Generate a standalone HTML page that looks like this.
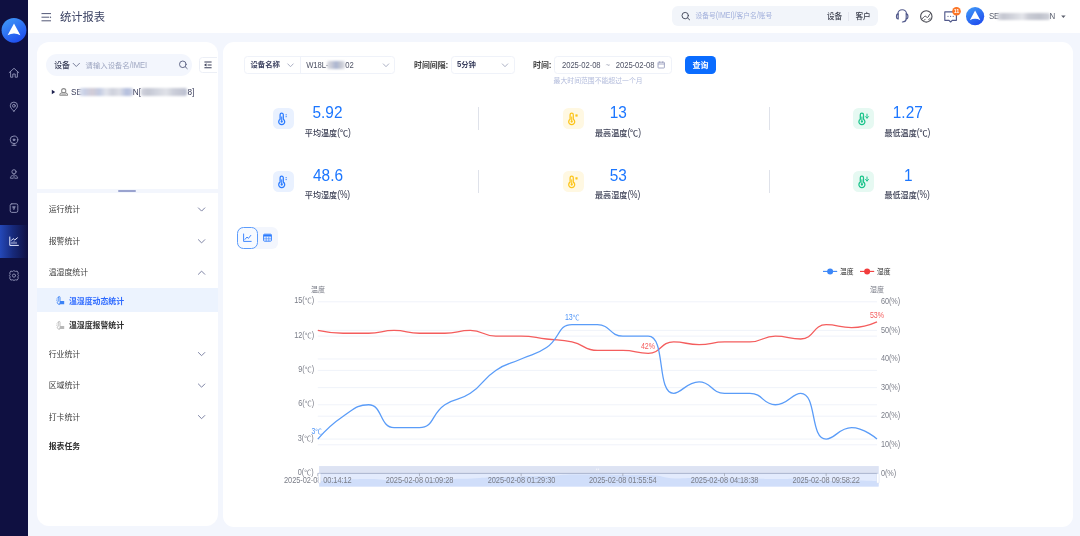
<!DOCTYPE html>
<html lang="zh-CN"><head><meta charset="utf-8"><title>统计报表</title>
<style>
html,body{margin:0;padding:0;}
body{width:1080px;height:536px;overflow:hidden;background:#f3f6fd;font-family:"Liberation Sans","Noto Sans CJK SC",sans-serif;position:relative;}
.b{position:absolute;box-sizing:border-box;}
.t{position:absolute;white-space:nowrap;}
.l{display:inline-block;font-size:1.04em;letter-spacing:-0.01em;transform:scaleY(1.2);transform-origin:50% 74%;}
.n{display:inline-block;transform:scaleY(1.1);transform-origin:50% 74%;}
svg{overflow:visible;}
</style></head>
<body>
<nav>
<div class="b" style="left:0px;top:0px;width:28px;height:536px;background:#0f1041;"></div>
<div class="b" style="left:0px;top:224.5px;width:28px;height:33.5px;background:linear-gradient(90deg,#2448b8 0%,#172a7c 45%,#0f1041 100%);"></div>
<svg class="b" style="left:0;top:0" width="1080" height="536"><defs><linearGradient id="lg14" x1="0.2" y1="0" x2="0.8" y2="1"><stop offset="0" stop-color="#3f97f7"/><stop offset="1" stop-color="#1d49ee"/></linearGradient></defs><circle cx="14" cy="30.3" r="12.4" fill="url(#lg14)"/><path d="M14,23.48 L20.406666666666666,35.156666666666666 Q14,31.746666666666666 7.593333333333333,35.156666666666666 Z" fill="#fff"/></svg>
<svg class="b" style="left:0;top:0" width="1080" height="536"><g fill="none" stroke="#8d90b4" stroke-width="0.95" stroke-linecap="round" stroke-linejoin="round"><path d="M9.2,72.6 L14,68.3 L18.8,72.6 M10.6,71.6 V77.2 H12.8 V74 H15.2 V77.2 H17.4 V71.6"/></g></svg>
<svg class="b" style="left:0;top:0" width="1080" height="536"><g fill="none" stroke="#8d90b4" stroke-width="0.95" stroke-linecap="round" stroke-linejoin="round"><path d="M13.9,111.2 C11.6,108.9 10.3,107.4 10.3,105.7 A3.6,3.6 0 0 1 17.5,105.7 C17.5,107.4 16.2,108.9 13.9,111.2 Z"/><circle cx="13.9" cy="105.8" r="1.4"/></g></svg>
<svg class="b" style="left:0;top:0" width="1080" height="536"><g fill="none" stroke="#8d90b4" stroke-width="0.95" stroke-linecap="round" stroke-linejoin="round"><circle cx="14" cy="139.8" r="3.8"/><circle cx="14" cy="139.8" r="0.9" fill="#8d90b4"/><path d="M12,145.3 H16 M14,143.6 V145.3"/></g></svg>
<svg class="b" style="left:0;top:0" width="1080" height="536"><g fill="none" stroke="#8d90b4" stroke-width="0.95" stroke-linecap="round" stroke-linejoin="round"><circle cx="14" cy="171.8" r="2.1"/><path d="M14,174 V176 M12.4,175.6 C10.8,175.9 10.4,177 10.4,178.2 H12.6 M15.6,175.6 C17.2,175.9 17.6,177 17.6,178.2 H15.4 M14,176.6 V178.4"/></g></svg>
<svg class="b" style="left:0;top:0" width="1080" height="536"><g fill="none" stroke="#8d90b4" stroke-width="0.95" stroke-linecap="round" stroke-linejoin="round"><rect x="10.2" y="203.8" width="7.6" height="8.6" rx="1.6"/><path d="M12.6,206.6 H15.4 L14,209.6 Z" fill="#8d90b4" stroke-width="0.5"/></g></svg>
<svg class="b" style="left:0;top:0" width="1080" height="536"><g fill="none" stroke="#e8ebff" stroke-width="1" stroke-linecap="round" stroke-linejoin="round"><path d="M9.8,237 V245.4 H18.4"/><path d="M11.4,240.4 L13.2,238.6 L14.8,240 L17.4,237.8"/><path d="M12,243.6 V242.2 M14,243.6 V241.6 M16,243.6 V242.2" stroke-width="0.8"/></g></svg>
<svg class="b" style="left:0;top:0" width="1080" height="536"><g fill="none" stroke="#8d90b4" stroke-width="0.95" stroke-linecap="round" stroke-linejoin="round"><circle cx="14" cy="275.6" r="1.6"/><path d="M14,270.8 L15.6,271.4 L17.2,271.1 L18.3,273 L17.8,274.4 L18.6,275.6 L17.8,276.8 L18.3,278.2 L17.2,280.1 L15.6,279.8 L14,280.4 L12.4,279.8 L10.8,280.1 L9.7,278.2 L10.2,276.8 L9.4,275.6 L10.2,274.4 L9.7,273 L10.8,271.1 L12.4,271.4 Z"/></g></svg>
</nav>
<header>
<div class="b" style="left:28px;top:0px;width:1052px;height:33px;background:#fff;"></div>
<svg class="b" style="left:0;top:0" width="1080" height="536"><g stroke="#4a5070" stroke-width="0.95" fill="none"><path d="M41.5,13.6 H51 M41.5,17.2 H49.3 M41.5,20.8 H51"/><path d="M50,16.2 L51.3,17.2 L50,18.2 Z" fill="#4a5070" stroke="none"/></g></svg>
<div class="t" id="title" style="left:59.9px;top:9px;font-size:11.3px;line-height:17px;color:#3b4263;font-weight:400;"><span>统计报表</span></div>
<div class="b" style="left:671.8px;top:6.1px;width:206.4px;height:20.1px;background:#f2f5fa;border-radius:6px;"></div>
<svg class="b" style="left:0;top:0" width="1080" height="536"><g stroke="#454a5c" stroke-width="0.95" fill="none" stroke-linecap="round"><circle cx="685.2" cy="15.6" r="3.2"/><path d="M687.6,18 L689.6,19.8"/></g></svg>
<div class="t" id="hph" style="left:695.4px;top:10px;font-size:6.8px;line-height:11px;color:#a3b1dc;font-weight:400;"><span>设备号<span class="l">(IMEI)/</span>客户名<span class="l">/</span>账号</span></div>
<div class="t" id="hdev" style="left:827px;top:11px;font-size:7.6px;line-height:12px;color:#3a3e4c;font-weight:500;"><span>设备</span></div>
<div class="b" style="left:848.1px;top:11.5px;width:0.6px;height:9px;background:#e3e6ee;"></div>
<div class="t" id="hcus" style="left:855.4px;top:11px;font-size:7.6px;line-height:12px;color:#3a3e4c;font-weight:500;"><span>客户</span></div>
<svg class="b" style="left:0;top:0" width="1080" height="536"><g stroke="#525a8c" stroke-width="1.15" fill="none" stroke-linecap="round"><path d="M897.9,14.6 V14 A4.3,4.3 0 0 1 906.5,14 V14.6"/><path d="M898.2,13.9 C895.9,14.1 895.9,18.7 898.2,18.9 Z"/><path d="M906.2,13.9 C908.5,14.1 908.5,18.7 906.2,18.9 Z"/><path d="M906.2,18.9 C906.1,21 904.6,21.9 902.4,22"/></g></svg>
<svg class="b" style="left:0;top:0" width="1080" height="536"><g stroke="#4b4c55" stroke-width="1.1" fill="none" stroke-linecap="round" stroke-linejoin="round"><circle cx="926.3" cy="16.4" r="5.7"/><path d="M922.2,18.6 C923.6,18.4 923.8,16.2 925.2,16.2 C926.6,16.2 926.4,17.6 927.6,17.4 C929,17.2 928.6,14.2 930.4,13.6" stroke-width="1"/><path d="M923.8,20.6 L925.2,19.2 M928.6,19.6 L930.2,18.4" stroke-width="0.9"/></g></svg>
<svg class="b" style="left:0;top:0" width="1080" height="536"><g stroke="#525a8c" stroke-width="1.15" fill="none" stroke-linejoin="round"><path d="M944.8,11.9 H956.4 V20.3 H952.2 L950.6,22 L949,20.3 H944.8 Z"/></g><g fill="#525a8c"><circle cx="948" cy="16.3" r="0.6"/><circle cx="950.6" cy="16.3" r="0.6"/><circle cx="953.2" cy="16.3" r="0.6"/></g><circle cx="956.5" cy="11.3" r="4.3" fill="#fb7526"/></svg>
<div class="t" style="left:946.5px;top:8.3px;width:20px;text-align:center;font-size:5.4px;line-height:6px;color:#fff;font-weight:700;">11</div>
<svg class="b" style="left:0;top:0" width="1080" height="536"><defs><linearGradient id="lg975" x1="0.2" y1="0" x2="0.8" y2="1"><stop offset="0" stop-color="#3f97f7"/><stop offset="1" stop-color="#1d49ee"/></linearGradient></defs><circle cx="975.1" cy="16.2" r="9.1" fill="url(#lg975)"/><path d="M975.1,10.5944 L980.3658666666666,20.191866666666666 Q975.1,17.389066666666665 969.8341333333334,20.191866666666666 Z" fill="#fff"/></svg>
<div class="t" id="use" style="left:988.9px;top:11px;font-size:7.6px;line-height:12px;color:#555a6a;font-weight:400;"><span><span class="l">SE</span></span></div>
<div class="b" style="left:996.6px;top:12.6px;width:53px;height:7.6px;background:linear-gradient(90deg,#d9dbe2 0%,#c4c6d0 12%,#d2d4dc 30%,#e4e5ea 48%,#c9cbd4 60%,#bfc2cc 80%,#d0d2da 100%);filter:blur(1.0px);opacity:1;border-radius:2px"></div>
<div class="t" id="usn" style="left:1049.6px;top:11px;font-size:7.6px;line-height:12px;color:#555a6a;font-weight:400;"><span><span class="l">N</span></span></div>
<svg class="b" style="left:0;top:0" width="1080" height="536"><path d="M1061.2,15.4 H1065.6 L1063.4,18 Z" fill="#5a5e6c"/></svg>
</header>
<aside>
<div class="b" style="left:37px;top:42px;width:180.5px;height:146.5px;background:#fff;border-radius:12px 12px 0 0;"></div>
<div class="b" style="left:45.8px;top:53.5px;width:146.2px;height:22.2px;background:#f3f6fd;border-radius:11.1px;"></div>
<div class="t" id="ldev" style="left:54.2px;top:60px;font-size:7.9px;line-height:12px;color:#3a3f58;font-weight:500;"><span>设备</span></div>
<svg class="b" style="left:0;top:0" width="1080" height="536"><path d="M73.1,63.300000000000004 L76.3,66.5 L79.5,63.300000000000004" fill="none" stroke="#6a7090" stroke-width="0.9" stroke-linecap="round" stroke-linejoin="round"/></svg>
<div class="t" id="lph" style="left:85.6px;top:60px;font-size:7.35px;line-height:12px;color:#9fa7c2;font-weight:400;"><span>请输入设备名<span class="l">/IMEI</span></span></div>
<svg class="b" style="left:0;top:0" width="1080" height="536"><g stroke="#5c6284" stroke-width="0.95" fill="none" stroke-linecap="round"><circle cx="182.8" cy="64.3" r="3.3"/><path d="M185.3,66.8 L187.2,68.6"/></g></svg>
<div class="b" style="left:199.3px;top:57.4px;width:18.2px;height:15.9px;overflow:hidden;"><div class="b" style="left:0;top:0;width:26px;height:15.8px;border:0.6px solid #eceff6;border-radius:3.5px;background:#fff;"></div></div>
<svg class="b" style="left:0;top:0" width="1080" height="536"><g stroke="#3a3f58" stroke-width="1.05" fill="none"><path d="M204.4,62 H211.6 M207.6,64.9 H211.6 M204.4,67.8 H211.6"/></g><path d="M204,64.9 L206.5,63.3 V66.5 Z" fill="#3a3f58"/></svg>
<svg class="b" style="left:0;top:0" width="1080" height="536"><path d="M51.8,89.7 L55.2,92 L51.8,94.3 Z" fill="#1f2350"/><g stroke="#8c8c8c" stroke-width="1.05" fill="none" stroke-linejoin="round"><circle cx="63.7" cy="90.7" r="2.1"/><path d="M60.2,95.3 C59.5,95.3 59.4,92.5 63.7,92.5 C68,92.5 67.9,95.3 67.2,95.3 Z"/><path d="M61.4,94.1 H66" stroke-width="0.8"/></g></svg>
<div class="t" id="tse" style="left:71.1px;top:87px;font-size:7.9px;line-height:12px;color:#3d405e;font-weight:400;"><span><span class="l">SE</span></span></div>
<div class="b" style="left:79px;top:88.4px;width:53.6px;height:7.8px;background:linear-gradient(90deg,#e0e4f0 0%,#c8d0e6 10%,#d2ccd6 25%,#c2cbe2 38%,#e2e4ec 50%,#ced1dc 62%,#dcdee6 75%,#b4bfde 88%,#c8cde0 100%);filter:blur(1.0px);opacity:1;border-radius:2px"></div>
<div class="t" id="tn" style="left:132.8px;top:87px;font-size:7.9px;line-height:12px;color:#3d405e;font-weight:400;"><span><span class="l">N[</span></span></div>
<div class="b" style="left:141.2px;top:88.4px;width:46px;height:7.8px;background:linear-gradient(90deg,#d2d4de 0%,#c4c7d3 15%,#d2d5df 35%,#e0e2e8 55%,#cccfda 70%,#c5c8d4 85%,#bcc1d2 100%);filter:blur(1.0px);opacity:1;border-radius:2px"></div>
<div class="t" id="t8" style="left:187.5px;top:87px;font-size:7.9px;line-height:12px;color:#3d405e;font-weight:400;"><span><span class="l">8]</span></span></div>
<div class="b" style="left:118.2px;top:190.0px;width:17.8px;height:1.5px;background:#9aa3cf;border-radius:1px;"></div>
<div class="b" style="left:37px;top:193px;width:180.5px;height:332.6px;background:#fff;border-radius:0 0 12px 12px;"></div>
<div class="t" id="m0" style="left:48.7px;top:204px;font-size:7.9px;line-height:12px;color:#3c3c3c;font-weight:400;"><span>运行统计</span></div>
<svg class="b" style="left:0;top:0" width="1080" height="536"><path d="M198.4,207.9 L201.6,211.1 L204.8,207.9" fill="none" stroke="#7d83a4" stroke-width="1.0" stroke-linecap="round" stroke-linejoin="round"/></svg>
<div class="t" id="m1" style="left:48.7px;top:236px;font-size:7.9px;line-height:12px;color:#3c3c3c;font-weight:400;"><span>报警统计</span></div>
<svg class="b" style="left:0;top:0" width="1080" height="536"><path d="M198.4,239.70000000000002 L201.6,242.9 L204.8,239.70000000000002" fill="none" stroke="#7d83a4" stroke-width="1.0" stroke-linecap="round" stroke-linejoin="round"/></svg>
<div class="t" id="m2" style="left:48.7px;top:267px;font-size:7.9px;line-height:12px;color:#3c3c3c;font-weight:400;"><span>温湿度统计</span></div>
<svg class="b" style="left:0;top:0" width="1080" height="536"><path d="M198.4,274.3 L201.6,271.09999999999997 L204.8,274.3" fill="none" stroke="#7d83a4" stroke-width="1.0" stroke-linecap="round" stroke-linejoin="round"/></svg>
<div class="t" id="m3" style="left:48.7px;top:349px;font-size:7.9px;line-height:12px;color:#3c3c3c;font-weight:400;"><span>行业统计</span></div>
<svg class="b" style="left:0;top:0" width="1080" height="536"><path d="M198.4,352.5 L201.6,355.70000000000005 L204.8,352.5" fill="none" stroke="#7d83a4" stroke-width="1.0" stroke-linecap="round" stroke-linejoin="round"/></svg>
<div class="t" id="m4" style="left:48.7px;top:380px;font-size:7.9px;line-height:12px;color:#3c3c3c;font-weight:400;"><span>区域统计</span></div>
<svg class="b" style="left:0;top:0" width="1080" height="536"><path d="M198.4,384.0 L201.6,387.20000000000005 L204.8,384.0" fill="none" stroke="#7d83a4" stroke-width="1.0" stroke-linecap="round" stroke-linejoin="round"/></svg>
<div class="t" id="m5" style="left:48.7px;top:412px;font-size:7.9px;line-height:12px;color:#3c3c3c;font-weight:400;"><span>打卡统计</span></div>
<svg class="b" style="left:0;top:0" width="1080" height="536"><path d="M198.4,415.5 L201.6,418.70000000000005 L204.8,415.5" fill="none" stroke="#7d83a4" stroke-width="1.0" stroke-linecap="round" stroke-linejoin="round"/></svg>
<div class="t" id="m6" style="left:48.7px;top:441px;font-size:7.9px;line-height:12px;color:#2e2e2e;font-weight:700;"><span>报表任务</span></div>
<div class="b" style="left:37px;top:288px;width:180.5px;height:23.9px;background:#ecf3fe;"></div>
<svg class="b" style="left:0;top:0" width="1080" height="536"><g stroke="#3b82f6" stroke-width="0.9" fill="none" stroke-linecap="round"><path d="M58.2,297.40000000000003 V301.20000000000005 A1.7,1.7 0 1 0 60.0,301.20000000000005 V297.40000000000003 A0.9,0.9 0 0 0 58.2,297.40000000000003"/></g><path d="M60.0,301.0 H64.2 V304.20000000000005 H59.2 Z" fill="#3b82f6"/><path d="M56.2,299.0 H57.0 M56.2,300.6 H57.0" stroke="#3b82f6" stroke-width="0.6"/></svg>
<div class="t" id="s0" style="left:68.9px;top:296px;font-size:7.9px;line-height:12px;color:#2f6bff;font-weight:700;"><span>温湿度动态统计</span></div>
<svg class="b" style="left:0;top:0" width="1080" height="536"><g stroke="#b8b8b8" stroke-width="0.9" fill="none" stroke-linecap="round"><path d="M58.2,322.3 V326.1 A1.7,1.7 0 1 0 60.0,326.1 V322.3 A0.9,0.9 0 0 0 58.2,322.3"/></g><path d="M60.0,325.9 H64.2 V329.1 H59.2 Z" fill="#b8b8b8"/><path d="M56.2,323.9 H57.0 M56.2,325.5 H57.0" stroke="#b8b8b8" stroke-width="0.6"/></svg>
<div class="t" id="s1" style="left:68.9px;top:320px;font-size:7.9px;line-height:12px;color:#2e2e2e;font-weight:700;"><span>温湿度报警统计</span></div>
</aside>
<main>
<div class="b" style="left:223px;top:42px;width:849.5px;height:484.9px;background:#fff;border-radius:11px;"></div>
<div class="b" style="left:244.2px;top:56.3px;width:151.2px;height:17.6px;border:0.6px solid #eff2f9;border-radius:3.5px;background:#fff;"></div>
<div class="b" style="left:300.1px;top:56.3px;width:0.6px;height:17.6px;background:#eff2f9;"></div>
<div class="t" id="f1" style="left:250.4px;top:59px;font-size:7.4px;line-height:12px;color:#3d4260;font-weight:700;"><span>设备名称</span></div>
<svg class="b" style="left:0;top:0" width="1080" height="536"><path d="M287.8,63.9 L290.5,66.7 L293.2,63.9" fill="none" stroke="#9da3ba" stroke-width="0.85" stroke-linecap="round" stroke-linejoin="round"/></svg>
<div class="t" id="f2" style="left:306.2px;top:60px;font-size:7.4px;line-height:12px;color:#4f5366;font-weight:400;"><span><span class="l">W18L-</span></span></div>
<div class="b" style="left:327.4px;top:61.2px;width:17.6px;height:7.4px;background:linear-gradient(90deg,#dcdde3 0%,#c9ccd8 25%,#aab4d0 50%,#c4c7d2 75%,#dcdde3 100%);filter:blur(1.0px);opacity:1;border-radius:2px"></div>
<div class="t" id="f3" style="left:345.2px;top:60px;font-size:7.4px;line-height:12px;color:#4f5366;font-weight:400;"><span><span class="l">02</span></span></div>
<svg class="b" style="left:0;top:0" width="1080" height="536"><path d="M383.3,63.9 L386,66.7 L388.7,63.9" fill="none" stroke="#9da3ba" stroke-width="0.85" stroke-linecap="round" stroke-linejoin="round"/></svg>
<div class="t" id="f4" style="left:414.0px;top:60px;font-size:7.9px;line-height:12px;color:#3a3a3a;font-weight:700;"><span>时间间隔<span class="l">:</span></span></div>
<div class="b" style="left:451.2px;top:56.3px;width:63.4px;height:17.6px;border:0.6px solid #eff2f9;border-radius:3.5px;background:#fff;"></div>
<div class="t" id="f5" style="left:457px;top:59px;font-size:7.4px;line-height:12px;color:#3d4260;font-weight:700;"><span><span class="l">5</span>分钟</span></div>
<svg class="b" style="left:0;top:0" width="1080" height="536"><path d="M502.3,63.9 L505,66.7 L507.7,63.9" fill="none" stroke="#9da3ba" stroke-width="0.85" stroke-linecap="round" stroke-linejoin="round"/></svg>
<div class="t" id="f6" style="left:533px;top:60px;font-size:7.9px;line-height:12px;color:#3a3a3a;font-weight:700;"><span>时间<span class="l">:</span></span></div>
<div class="b" style="left:554.3px;top:56.3px;width:117.5px;height:17.6px;border:0.6px solid #eff2f9;border-radius:3.5px;background:#fff;"></div>
<div class="t" id="d1" style="left:562.0px;top:60px;font-size:7.4px;line-height:12px;color:#4f5366;font-weight:400;"><span><span class="l">2025-02-08</span></span></div>
<div class="t" id="d2" style="left:605.4px;top:60px;font-size:7.4px;line-height:12px;color:#b0b4c4;font-weight:400;"><span><span class="l">~</span></span></div>
<div class="t" id="d3" style="left:615.8px;top:60px;font-size:7.4px;line-height:12px;color:#4f5366;font-weight:400;"><span><span class="l">2025-02-08</span></span></div>
<svg class="b" style="left:0;top:0" width="1080" height="536"><g stroke="#8d93b5" stroke-width="0.8" fill="none"><rect x="658" y="62.2" width="6.4" height="5.8" rx="0.6"/><path d="M658,64 H664.4 M659.7,61.4 V62.8 M662.7,61.4 V62.8"/></g></svg>
<div class="t" id="hint" style="left:553.6px;top:75px;font-size:6.85px;line-height:11px;color:#b3bcdc;font-weight:400;"><span>最大时间范围不能超过一个月</span></div>
<div class="b" style="left:685.4px;top:55.6px;width:31px;height:18.4px;background:#0a6cff;border-radius:4.5px;"></div>
<div class="t" id="btn" style="left:550.6px;width:300px;text-align:center;top:60px;font-size:8.0px;line-height:12px;color:#fff;font-weight:700;"><span>查询</span></div>
<div class="b" style="left:273.2px;top:108.4px;width:20.4px;height:20.5px;background:#e9f1ff;border-radius:5.5px;"></div>
<svg class="b" style="left:0;top:0" width="1080" height="536"><g stroke="#2a7bff" stroke-width="1.25" fill="none" stroke-linecap="round" stroke-linejoin="round"><path d="M280.09999999999997,114.8 A1.6,1.6 0 0 1 283.3,114.8 V119.2 A3,3 0 1 1 280.09999999999997,119.2 Z"/><path d="M281.7,116.9 V121.3" stroke-width="1"/></g><circle cx="281.7" cy="121.60000000000001" r="1.15" fill="#2a7bff"/><path d="M285.5,114.8 H286.9 M285.5,116.7 H286.9" stroke="#2a7bff" stroke-width="0.85"/></svg>
<div class="t" id="v00" style="left:177.5px;width:300px;text-align:center;top:101px;font-size:15.4px;line-height:24px;color:#1b76ff;font-weight:400;"><span><span class="n">5.92</span></span></div>
<div class="t" id="l00" style="left:304.8px;top:127px;font-size:8.1px;line-height:13px;color:#383c52;font-weight:500;"><span>平均温度<span class="l">(</span>℃<span class="l">)</span></span></div>
<div class="b" style="left:563.1999999999999px;top:108.4px;width:20.4px;height:20.5px;background:#fff8e2;border-radius:5.5px;"></div>
<svg class="b" style="left:0;top:0" width="1080" height="536"><g stroke="#fcc419" stroke-width="1.25" fill="none" stroke-linecap="round" stroke-linejoin="round"><path d="M570.0999999999999,114.8 A1.6,1.6 0 0 1 573.3,114.8 V119.2 A3,3 0 1 1 570.0999999999999,119.2 Z"/><path d="M571.6999999999999,116.9 V121.3" stroke-width="1"/></g><circle cx="571.6999999999999" cy="121.60000000000001" r="1.15" fill="#fcc419"/><path d="M576.4999999999999,114.10000000000001 V116.9 M575.0999999999999,115.5 H577.9 M575.4999999999999,114.5 L577.4999999999999,116.5 M577.4999999999999,114.5 L575.4999999999999,116.5" stroke="#fcc419" stroke-width="0.7"/></svg>
<div class="t" id="v01" style="left:468.2px;width:300px;text-align:center;top:101px;font-size:15.4px;line-height:24px;color:#1b76ff;font-weight:400;"><span><span class="n">13</span></span></div>
<div class="t" id="l01" style="left:595.0px;top:127px;font-size:8.1px;line-height:13px;color:#383c52;font-weight:500;"><span>最高温度<span class="l">(</span>℃<span class="l">)</span></span></div>
<div class="b" style="left:853.4px;top:108.4px;width:20.4px;height:20.5px;background:#e6f9f2;border-radius:5.5px;"></div>
<svg class="b" style="left:0;top:0" width="1080" height="536"><g stroke="#19c38a" stroke-width="1.25" fill="none" stroke-linecap="round" stroke-linejoin="round"><path d="M860.3,114.8 A1.6,1.6 0 0 1 863.5,114.8 V119.2 A3,3 0 1 1 860.3,119.2 Z"/><path d="M861.9,116.9 V121.3" stroke-width="1"/></g><circle cx="861.9" cy="121.60000000000001" r="1.15" fill="#19c38a"/><path d="M867.0,114.10000000000001 V118.10000000000001 M865.5,116.60000000000001 L867.0,118.2 L868.5,116.60000000000001" stroke="#19c38a" stroke-width="1" fill="none" stroke-linecap="round" stroke-linejoin="round"/></svg>
<div class="t" id="v02" style="left:757.8px;width:300px;text-align:center;top:101px;font-size:15.4px;line-height:24px;color:#1b76ff;font-weight:400;"><span><span class="n">1.27</span></span></div>
<div class="t" id="l02" style="left:884.4px;top:127px;font-size:8.1px;line-height:13px;color:#383c52;font-weight:500;"><span>最低温度<span class="l">(</span>℃<span class="l">)</span></span></div>
<div class="b" style="left:478.2px;top:106.6px;width:0.7px;height:23.4px;background:#dfe2ea;"></div>
<div class="b" style="left:768.7px;top:106.6px;width:0.7px;height:23.4px;background:#dfe2ea;"></div>
<div class="b" style="left:273.2px;top:171.29999999999998px;width:20.4px;height:20.5px;background:#e9f1ff;border-radius:5.5px;"></div>
<svg class="b" style="left:0;top:0" width="1080" height="536"><g stroke="#2a7bff" stroke-width="1.25" fill="none" stroke-linecap="round" stroke-linejoin="round"><path d="M280.09999999999997,177.7 A1.6,1.6 0 0 1 283.3,177.7 V182.1 A3,3 0 1 1 280.09999999999997,182.1 Z"/><path d="M281.7,179.79999999999998 V184.2" stroke-width="1"/></g><circle cx="281.7" cy="184.5" r="1.15" fill="#2a7bff"/><path d="M285.5,177.7 H286.9 M285.5,179.6 H286.9" stroke="#2a7bff" stroke-width="0.85"/></svg>
<div class="t" id="v10" style="left:178.0px;width:300px;text-align:center;top:164px;font-size:15.4px;line-height:24px;color:#1b76ff;font-weight:400;"><span><span class="n">48.6</span></span></div>
<div class="t" id="l10" style="left:304.8px;top:189px;font-size:8.1px;line-height:13px;color:#383c52;font-weight:500;"><span>平均湿度<span class="l">(%)</span></span></div>
<div class="b" style="left:563.1999999999999px;top:171.29999999999998px;width:20.4px;height:20.5px;background:#fff8e2;border-radius:5.5px;"></div>
<svg class="b" style="left:0;top:0" width="1080" height="536"><g stroke="#fcc419" stroke-width="1.25" fill="none" stroke-linecap="round" stroke-linejoin="round"><path d="M570.0999999999999,177.7 A1.6,1.6 0 0 1 573.3,177.7 V182.1 A3,3 0 1 1 570.0999999999999,182.1 Z"/><path d="M571.6999999999999,179.79999999999998 V184.2" stroke-width="1"/></g><circle cx="571.6999999999999" cy="184.5" r="1.15" fill="#fcc419"/><path d="M576.4999999999999,177.0 V179.79999999999998 M575.0999999999999,178.4 H577.9 M575.4999999999999,177.4 L577.4999999999999,179.4 M577.4999999999999,177.4 L575.4999999999999,179.4" stroke="#fcc419" stroke-width="0.7"/></svg>
<div class="t" id="v11" style="left:468.2px;width:300px;text-align:center;top:164px;font-size:15.4px;line-height:24px;color:#1b76ff;font-weight:400;"><span><span class="n">53</span></span></div>
<div class="t" id="l11" style="left:595.0px;top:189px;font-size:8.1px;line-height:13px;color:#383c52;font-weight:500;"><span>最高湿度<span class="l">(%)</span></span></div>
<div class="b" style="left:853.4px;top:171.29999999999998px;width:20.4px;height:20.5px;background:#e6f9f2;border-radius:5.5px;"></div>
<svg class="b" style="left:0;top:0" width="1080" height="536"><g stroke="#19c38a" stroke-width="1.25" fill="none" stroke-linecap="round" stroke-linejoin="round"><path d="M860.3,177.7 A1.6,1.6 0 0 1 863.5,177.7 V182.1 A3,3 0 1 1 860.3,182.1 Z"/><path d="M861.9,179.79999999999998 V184.2" stroke-width="1"/></g><circle cx="861.9" cy="184.5" r="1.15" fill="#19c38a"/><path d="M867.0,177.0 V181.0 M865.5,179.5 L867.0,181.1 L868.5,179.5" stroke="#19c38a" stroke-width="1" fill="none" stroke-linecap="round" stroke-linejoin="round"/></svg>
<div class="t" id="v12" style="left:758.4px;width:300px;text-align:center;top:164px;font-size:15.4px;line-height:24px;color:#1b76ff;font-weight:400;"><span><span class="n">1</span></span></div>
<div class="t" id="l12" style="left:884.4px;top:189px;font-size:8.1px;line-height:13px;color:#383c52;font-weight:500;"><span>最低湿度<span class="l">(%)</span></span></div>
<div class="b" style="left:478.2px;top:170.0px;width:0.7px;height:23.4px;background:#dfe2ea;"></div>
<div class="b" style="left:768.7px;top:170.0px;width:0.7px;height:23.4px;background:#dfe2ea;"></div>
<div class="b" style="left:237px;top:227px;width:41px;height:21.6px;background:#f3f6fd;border-radius:6px;"></div>
<div class="b" style="left:237px;top:227px;width:20.6px;height:21.6px;background:#f7faff;border:0.85px solid #5c9cfc;border-radius:6.5px;"></div>
<svg class="b" style="left:0;top:0" width="1080" height="536"><g stroke="#2a7bff" stroke-width="0.9" fill="none" stroke-linecap="round" stroke-linejoin="round"><path d="M243.6,234 V241.4 H251.2"/><path d="M245,239.4 L247,237 L248.4,238.4 L250.8,235.4"/></g><g stroke="#2a7bff" stroke-width="0.9" fill="none"><rect x="263.6" y="234.2" width="7.8" height="7" rx="0.8"/><path d="M263.6,236.6 H271.4 M263.6,238.8 H271.4 M266.2,236.6 V241.2 M268.8,236.6 V241.2" stroke-width="0.6"/><path d="M263.8,235.3 H271.2" stroke-width="1.4"/></g></svg>
<section>
<svg class="b" style="left:0;top:0" width="1080" height="536"><path d="M317.8,301.80 H877.0" stroke="#e9eef8" stroke-width="0.7"/><path d="M317.8,336.12 H877.0" stroke="#e9eef8" stroke-width="0.7"/><path d="M317.8,370.44 H877.0" stroke="#e9eef8" stroke-width="0.7"/><path d="M317.8,404.76 H877.0" stroke="#e9eef8" stroke-width="0.7"/><path d="M317.8,439.08 H877.0" stroke="#e9eef8" stroke-width="0.7"/><path d="M317.8,330.40 H877.0" stroke="#e9eef8" stroke-width="0.7"/><path d="M317.8,359.00 H877.0" stroke="#e9eef8" stroke-width="0.7"/><path d="M317.8,387.60 H877.0" stroke="#e9eef8" stroke-width="0.7"/><path d="M317.8,416.20 H877.0" stroke="#e9eef8" stroke-width="0.7"/><path d="M317.8,444.80 H877.0" stroke="#e9eef8" stroke-width="0.7"/><rect x="319.2" y="466.1" width="559.4000000000001" height="20.5" fill="#e3ebfd"/><path d="M319.20,481.10 C319.20,481.10 331.91,480.26 344.63,479.76 C357.33,479.26 357.35,479.09 370.05,479.09 C382.77,479.09 382.76,480.43 395.48,480.43 C408.19,480.43 408.20,480.43 420.91,480.43 C433.63,480.43 433.62,479.59 446.34,479.09 C459.04,478.59 459.06,478.92 471.76,478.42 C484.48,477.92 484.47,477.58 497.19,477.08 C509.90,476.58 509.90,476.74 522.62,476.41 C535.33,476.07 535.34,476.24 548.05,475.74 C560.77,475.24 560.75,474.40 573.47,474.40 C586.18,474.40 586.19,474.40 598.90,474.40 C611.62,474.40 611.61,475.07 624.33,475.07 C637.04,475.07 637.10,475.07 649.75,475.07 C662.52,475.07 662.42,478.42 675.18,478.42 C687.84,478.42 687.90,477.75 700.61,477.75 C713.32,477.75 713.32,478.42 726.04,478.42 C738.75,478.42 738.75,478.42 751.46,478.42 C764.18,478.42 764.18,479.09 776.89,479.09 C789.60,479.09 789.64,478.42 802.32,478.42 C815.06,478.42 815.00,481.10 827.75,481.10 C840.43,481.10 840.46,480.43 853.17,480.43 C865.89,480.43 878.60,481.10 878.60,481.10 L878.6,486.6 L319.2,486.6 Z" fill="#d0defa"/><rect x="319.2" y="466.1" width="559.4000000000001" height="7.2999999999999545" fill="#dde3f3"/><path d="M317.8,473.4 H878.0" stroke="#a4aeca" stroke-width="0.9"/><path d="M317.80,473.4 V476.2" stroke="#8a8e9c" stroke-width="0.6"/><path d="M419.47,473.4 V476.2" stroke="#8a8e9c" stroke-width="0.6"/><path d="M521.15,473.4 V476.2" stroke="#8a8e9c" stroke-width="0.6"/><path d="M622.82,473.4 V476.2" stroke="#8a8e9c" stroke-width="0.6"/><path d="M724.49,473.4 V476.2" stroke="#8a8e9c" stroke-width="0.6"/><path d="M826.16,473.4 V476.2" stroke="#8a8e9c" stroke-width="0.6"/><path d="M596.6,468.6 V470.2 M598.4,468.6 V470.2" stroke="#fff" stroke-width="0.7" opacity="0.9"/><path d="M317.80,330.40 C317.80,330.40 330.47,333.26 343.22,333.26 C355.89,333.26 355.97,333.26 368.64,333.26 C381.39,333.26 381.35,330.40 394.05,330.40 C406.76,330.40 406.72,333.26 419.47,333.26 C432.14,333.26 432.22,333.26 444.89,333.26 C457.64,333.26 457.72,330.40 470.31,330.40 C483.14,330.40 482.86,336.12 495.73,336.12 C508.28,336.12 508.48,336.12 521.15,336.12 C533.89,336.12 533.85,337.55 546.56,338.98 C559.27,340.41 559.58,339.05 571.98,341.84 C584.99,344.77 584.35,350.42 597.40,350.42 C609.77,350.42 610.15,350.42 622.82,350.42 C635.57,350.42 636.07,353.28 648.24,353.28 C661.49,353.28 660.40,341.84 673.65,341.84 C685.82,341.84 686.36,344.70 699.07,344.70 C711.78,344.70 711.74,341.84 724.49,341.84 C737.16,341.84 737.36,341.84 749.91,341.84 C762.78,341.84 762.50,336.12 775.33,336.12 C787.92,336.12 788.87,338.98 800.75,338.98 C814.29,338.98 812.62,324.68 826.16,324.68 C838.04,324.68 838.99,327.54 851.58,327.54 C864.41,327.54 877.00,321.82 877.00,321.82" fill="none" stroke="#f45d5d" stroke-width="1.3" stroke-linejoin="round"/><path d="M317.80,439.08 C317.80,439.08 329.21,425.65 343.22,416.20 C354.63,408.49 357.22,404.76 368.64,404.76 C382.64,404.76 379.47,427.64 394.05,427.64 C404.89,427.64 408.64,427.64 419.47,427.64 C434.05,427.64 430.89,414.21 444.89,404.76 C456.30,397.05 458.90,401.03 470.31,393.32 C484.31,383.87 481.72,379.89 495.73,370.44 C507.14,362.73 508.44,364.72 521.15,359.00 C533.85,353.28 535.15,355.27 546.56,347.56 C560.57,338.11 557.40,324.68 571.98,324.68 C582.82,324.68 585.28,324.68 597.40,324.68 C610.69,324.68 609.52,336.12 622.82,336.12 C634.94,336.12 640.90,336.12 648.24,336.12 C666.31,336.12 656.07,393.32 673.65,393.32 C681.49,393.32 686.36,381.88 699.07,381.88 C711.78,381.88 711.20,393.32 724.49,393.32 C736.61,393.32 737.79,393.32 749.91,393.32 C763.20,393.32 762.62,404.76 775.33,404.76 C788.04,404.76 791.91,393.32 800.75,393.32 C817.33,393.32 809.58,439.08 826.16,439.08 C835.00,439.08 838.87,427.64 851.58,427.64 C864.29,427.64 877.00,439.08 877.00,439.08" fill="none" stroke="#5a9cf8" stroke-width="1.3" stroke-linejoin="round"/><path d="M823,271.4 H837.2" stroke="#3b86f7" stroke-width="1.1"/><circle cx="830.1" cy="271.4" r="3" fill="#3b86f7"/><path d="M860,271.4 H874.2" stroke="#f23c3c" stroke-width="1.1"/><circle cx="867.1" cy="271.4" r="3" fill="#f23c3c"/></svg>
<div class="t" id="lg1" style="left:840px;top:266px;font-size:6.8px;line-height:11px;color:#333;font-weight:400;"><span>温度</span></div>
<div class="t" id="lg2" style="left:877px;top:266px;font-size:6.8px;line-height:11px;color:#333;font-weight:400;"><span>湿度</span></div>
<div class="t" id="an1" style="left:311px;top:284px;font-size:7.0px;line-height:11px;color:#7a7d88;font-weight:400;"><span>温度</span></div>
<div class="t" id="an2" style="left:870.0px;top:284px;font-size:7.0px;line-height:11px;color:#7a7d88;font-weight:400;"><span>湿度</span></div>
<div class="t" id="yl0" style="right:766.0px;top:295px;font-size:7.0px;line-height:11px;color:#7a7d88;font-weight:400;"><span><span class="l">15(</span>℃<span class="l">)</span></span></div>
<div class="t" id="yl1" style="right:766.0px;top:330px;font-size:7.0px;line-height:11px;color:#7a7d88;font-weight:400;"><span><span class="l">12(</span>℃<span class="l">)</span></span></div>
<div class="t" id="yl2" style="right:766.0px;top:364px;font-size:7.0px;line-height:11px;color:#7a7d88;font-weight:400;"><span><span class="l">9(</span>℃<span class="l">)</span></span></div>
<div class="t" id="yl3" style="right:766.0px;top:398px;font-size:7.0px;line-height:11px;color:#7a7d88;font-weight:400;"><span><span class="l">6(</span>℃<span class="l">)</span></span></div>
<div class="t" id="yl4" style="right:766.5px;top:433px;font-size:7.0px;line-height:11px;color:#7a7d88;font-weight:400;"><span><span class="l">3(</span>℃<span class="l">)</span></span></div>
<div class="t" id="yl5" style="right:766.5px;top:467px;font-size:7.0px;line-height:11px;color:#7a7d88;font-weight:400;"><span><span class="l">0(</span>℃<span class="l">)</span></span></div>
<div class="t" id="yr0" style="left:881.0px;top:296px;font-size:7.0px;line-height:11px;color:#7a7d88;font-weight:400;"><span><span class="l">60(%)</span></span></div>
<div class="t" id="yr1" style="left:881.0px;top:325px;font-size:7.0px;line-height:11px;color:#7a7d88;font-weight:400;"><span><span class="l">50(%)</span></span></div>
<div class="t" id="yr2" style="left:881.0px;top:353px;font-size:7.0px;line-height:11px;color:#7a7d88;font-weight:400;"><span><span class="l">40(%)</span></span></div>
<div class="t" id="yr3" style="left:881.0px;top:382px;font-size:7.0px;line-height:11px;color:#7a7d88;font-weight:400;"><span><span class="l">30(%)</span></span></div>
<div class="t" id="yr4" style="left:881.0px;top:410px;font-size:7.0px;line-height:11px;color:#7a7d88;font-weight:400;"><span><span class="l">20(%)</span></span></div>
<div class="t" id="yr5" style="left:881.0px;top:439px;font-size:7.0px;line-height:11px;color:#7a7d88;font-weight:400;"><span><span class="l">10(%)</span></span></div>
<div class="t" id="yr6" style="left:881.0px;top:468px;font-size:7.0px;line-height:11px;color:#7a7d88;font-weight:400;"><span><span class="l">0(%)</span></span></div>
<div class="t" id="xl0" style="left:167.8px;width:300px;text-align:center;top:475px;font-size:7.15px;line-height:11px;color:#7a7d88;font-weight:400;"><span><span class="l">2025-02-08 00:14:12</span></span></div>
<div class="t" id="xl1" style="left:269.5px;width:300px;text-align:center;top:475px;font-size:7.15px;line-height:11px;color:#7a7d88;font-weight:400;"><span><span class="l">2025-02-08 01:09:28</span></span></div>
<div class="t" id="xl2" style="left:371.5px;width:300px;text-align:center;top:475px;font-size:7.15px;line-height:11px;color:#7a7d88;font-weight:400;"><span><span class="l">2025-02-08 01:29:30</span></span></div>
<div class="t" id="xl3" style="left:472.8px;width:300px;text-align:center;top:475px;font-size:7.15px;line-height:11px;color:#7a7d88;font-weight:400;"><span><span class="l">2025-02-08 01:55:54</span></span></div>
<div class="t" id="xl4" style="left:574.5px;width:300px;text-align:center;top:475px;font-size:7.15px;line-height:11px;color:#7a7d88;font-weight:400;"><span><span class="l">2025-02-08 04:18:38</span></span></div>
<div class="t" id="xl5" style="left:676.2px;width:300px;text-align:center;top:475px;font-size:7.15px;line-height:11px;color:#7a7d88;font-weight:400;"><span><span class="l">2025-02-08 09:58:22</span></span></div>
<div class="t" id="p1" style="left:311.5px;top:427px;font-size:6.6px;line-height:10px;color:#4f95f7;font-weight:400;"><span><span class="l">3</span>℃</span></div>
<div class="t" id="p2" style="left:565.0px;top:312px;font-size:6.8px;line-height:11px;color:#4f95f7;font-weight:400;"><span><span class="l">13</span>℃</span></div>
<div class="t" id="p3" style="left:641.0px;top:341px;font-size:6.8px;line-height:11px;color:#f45d5d;font-weight:400;"><span><span class="l">42%</span></span></div>
<div class="t" id="p4" style="left:870px;top:310px;font-size:6.8px;line-height:11px;color:#f45d5d;font-weight:400;"><span><span class="l">53%</span></span></div>
<svg class="b" style="left:0;top:0" width="1080" height="536"><rect x="318.4" y="473.59999999999997" width="2.5" height="9.6" rx="0.8" fill="#fff" stroke="#c3cfee" stroke-width="0.4"/><rect x="876.6" y="473.59999999999997" width="2.5" height="9.6" rx="0.8" fill="#fff" stroke="#c3cfee" stroke-width="0.4"/></svg>
</section>
</main>
</body></html>
